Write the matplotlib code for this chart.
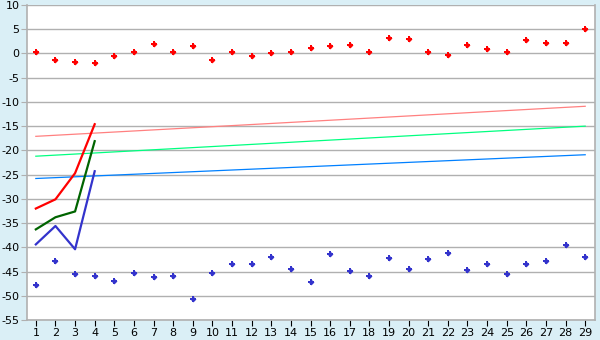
import matplotlib
matplotlib.use("Agg")
import matplotlib.pyplot as plt

plt.rcParams["axes.unicode_minus"] = False

categories = list(range(1, 30))
red_points = [0.2, -1.4, -1.8, -2.0, -0.6, 0.2, 1.9, 0.2, 1.5, -1.4,
              0.2, -0.6, 0.0, 0.2, 1.1, 1.5, 1.7, 0.2, 3.1, 2.9,
              0.4, -0.4, 1.7, 0.9, 0.2, 2.7, 2.1, 2.1, 5.0]
blue_points = [-47.8, -42.9, -45.6, -46.0, -47.0, -45.4, -46.2, -46.0, -50.7, -45.4,
               -43.5, -43.5, -41.9, -44.5, -47.2, -41.4, -44.9, -46.0, -42.3, -44.5,
               -42.5, -41.2, -44.7, -43.5, -45.6, -43.5, -42.9, -39.6, -42.1]
line_x = [1, 2, 3, 4]
red_line = [-32.0, -30.1, -24.7, -14.6]
green_line = [-36.3, -33.8, -32.6, -18.1]
blue_line = [-39.4, -35.6, -40.4, -24.3]
trend_x = [1, 29]
pink_trend = [-17.1, -10.9]
lime_trend = [-21.2, -15.0]
azure_trend = [-25.8, -20.9]
y_ticks = list(range(-55, 11, 5))

fig = plt.figure(figsize=(6, 3.4), dpi=100, facecolor="#daeff6")
ax = fig.add_axes([27/600, 20/340, 568/600, 315/340])
ax.set_facecolor("white")

for y in y_ticks:
    ax.axhline(y, color="#b0b0b0", lw=1.0, zorder=1)

ax.plot(trend_x, pink_trend, color="#ff8080", lw=0.9, zorder=2)
ax.plot(trend_x, lime_trend, color="#00ff80", lw=0.9, zorder=2)
ax.plot(trend_x, azure_trend, color="#0080ff", lw=0.9, zorder=2)

ax.plot(line_x, red_line, color="#ff0000", lw=1.6, zorder=3)
ax.plot(line_x, green_line, color="#006400", lw=1.6, zorder=3)
ax.plot(line_x, blue_line, color="#3333cc", lw=1.6, zorder=3)

for vals, col in [(red_points, "#ff0000"), (blue_points, "#3333cc")]:
    ax.plot(categories, vals, ls="none", marker="P", ms=5, color=col, mew=0, zorder=4)
    ax.plot(categories, vals, ls="none", marker="D", ms=3, color=col, mew=0, zorder=4)

ax.set_xlim(0.55, 29.5)
ax.set_ylim(-55, 10)
ax.set_xticks(categories)
ax.set_xticklabels([str(c) for c in categories])
ax.set_yticks(y_ticks)
ax.tick_params(axis="both", labelsize=8, color="#000000", length=4, width=0.8, pad=1.5)
ax.tick_params(axis="y", color="#b0b0b0")
for s in ["left", "right", "bottom"]:
    ax.spines[s].set_color("#b0b0b0")
    ax.spines[s].set_linewidth(1.2)
ax.spines["top"].set_visible(False)

fig.savefig("out.png", dpi=100, facecolor=fig.get_facecolor())
